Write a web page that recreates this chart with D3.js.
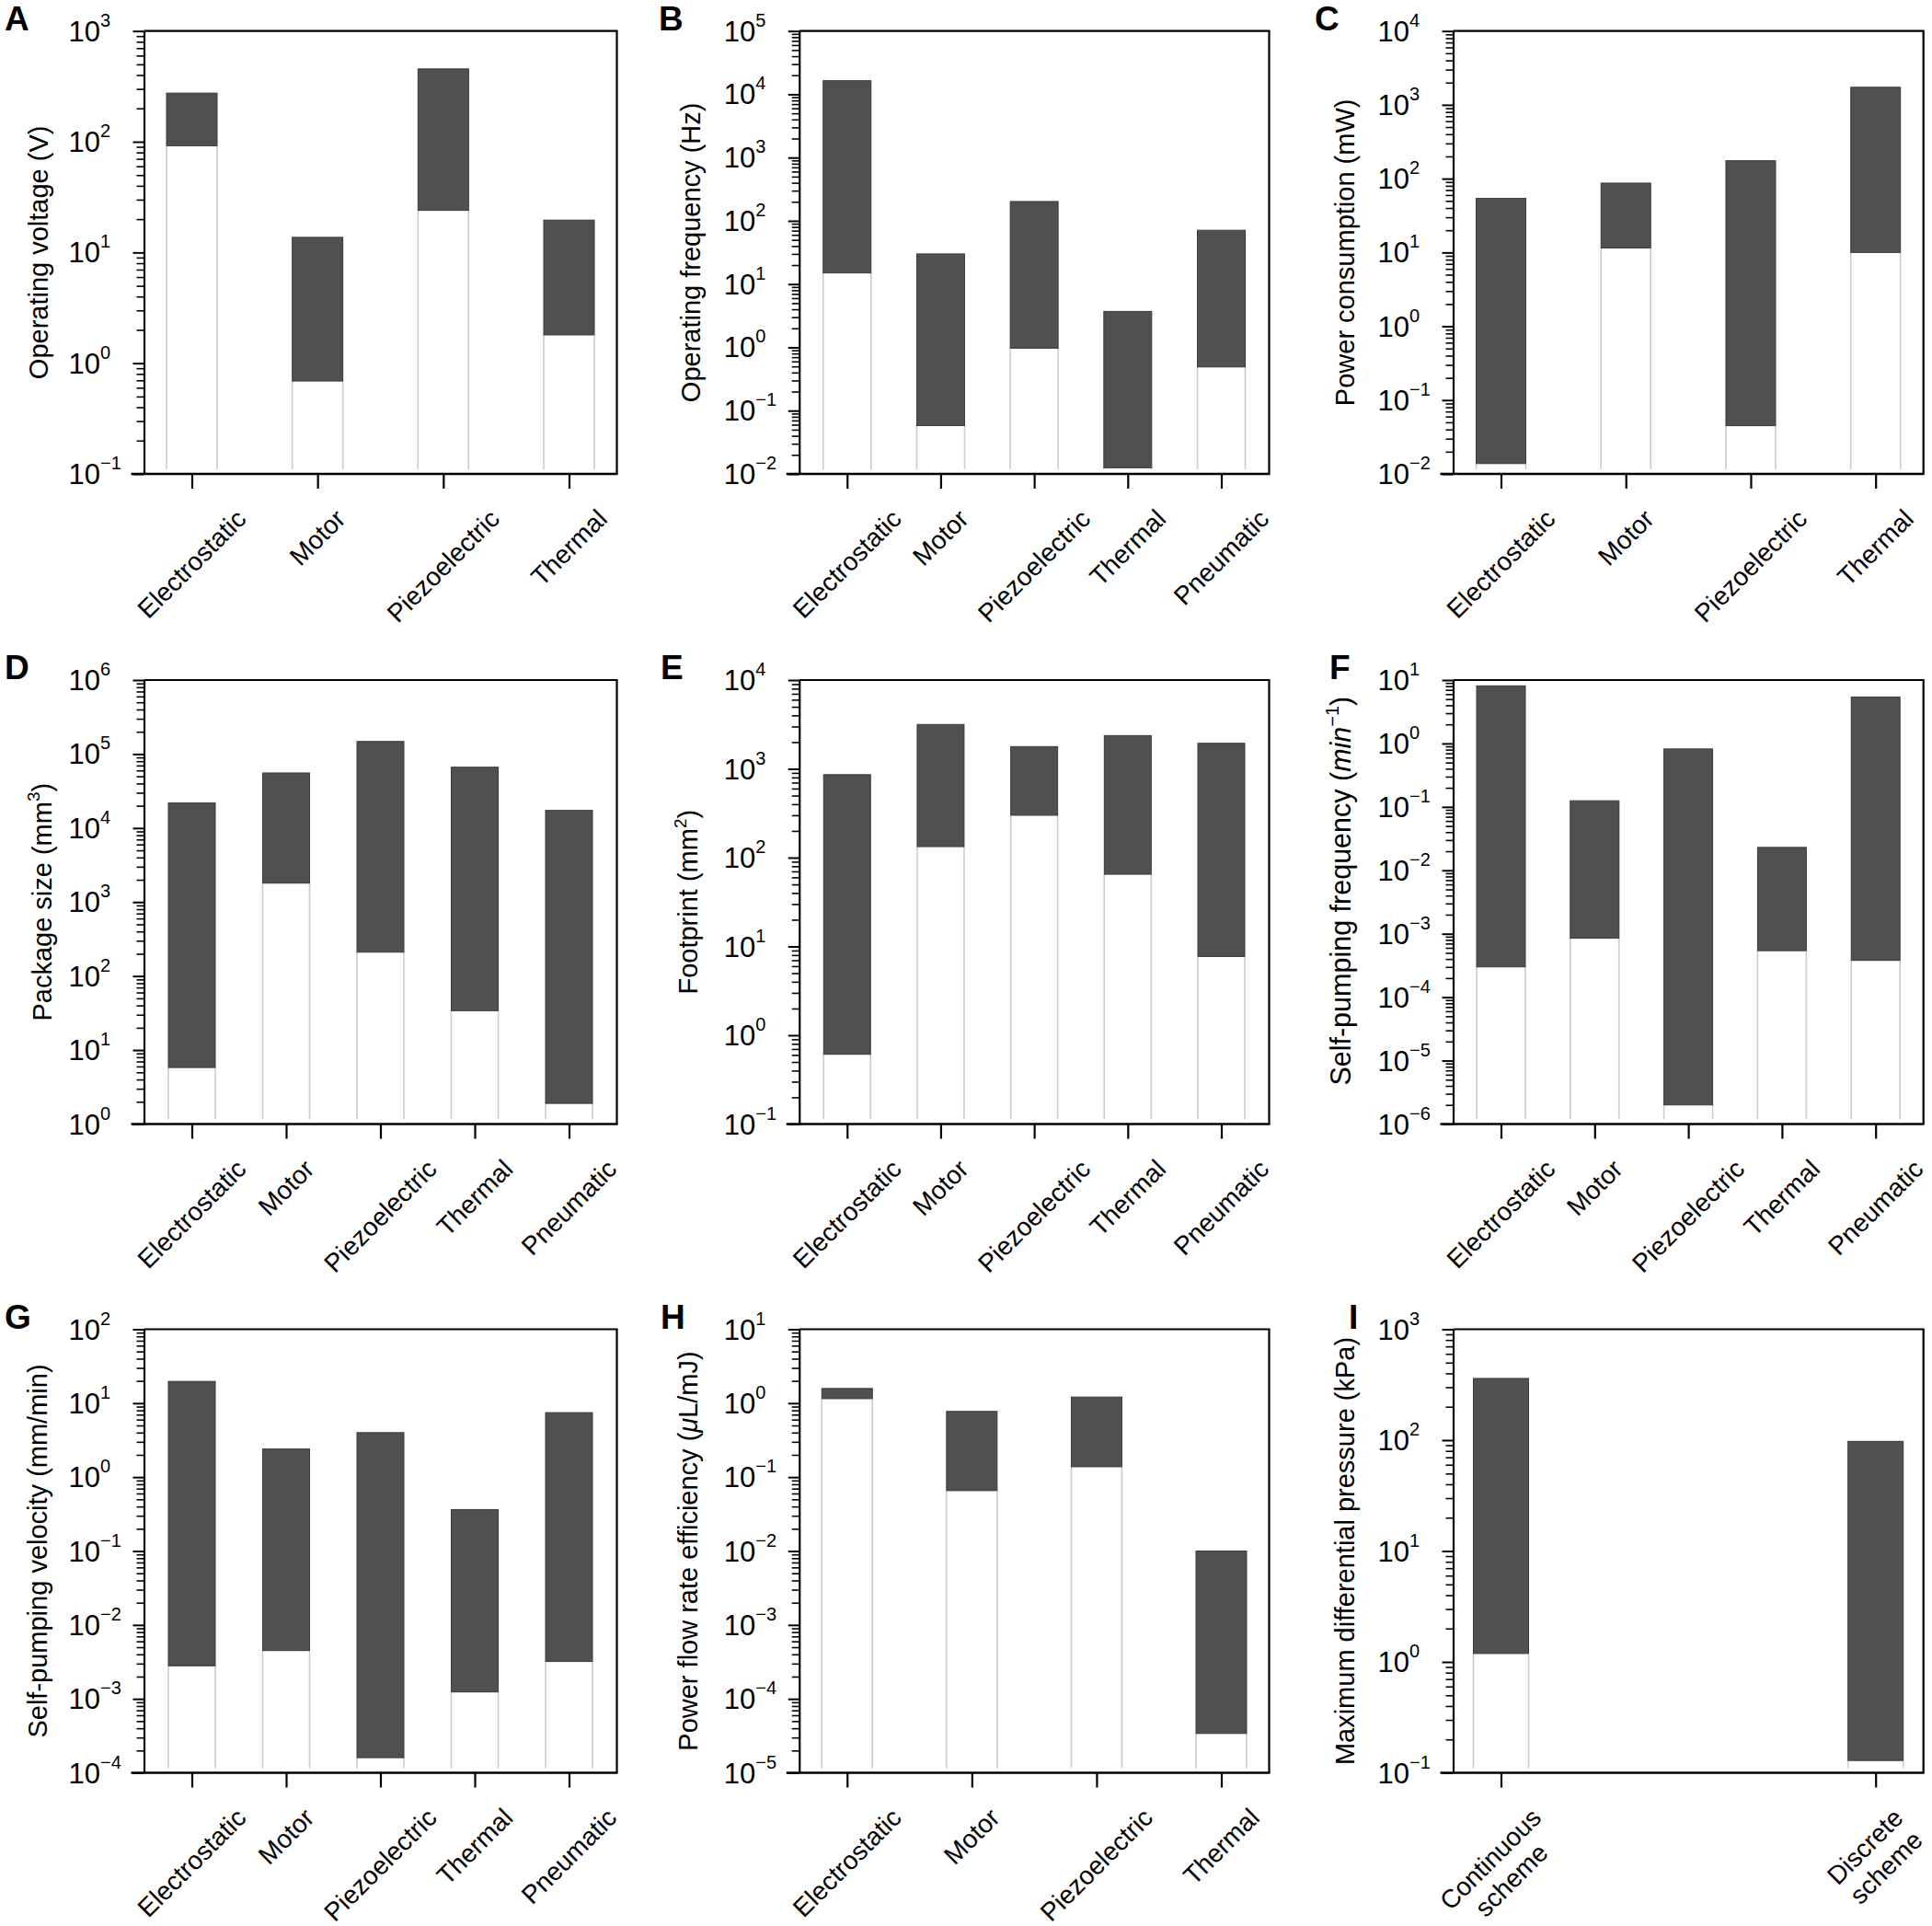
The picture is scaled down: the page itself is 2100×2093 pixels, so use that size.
<!DOCTYPE html>
<html><head><meta charset="utf-8">
<script src="https://cdn.jsdelivr.net/npm/d3@7"></script>
<style>
body{margin:0;background:#fff}
svg{display:block}
text{font-family:"Liberation Sans",Arial,Helvetica,sans-serif;fill:#000}
</style>
</head><body>
<svg id="chart" width="2100" height="2093"></svg>
<script>
// ---------------- DATA ----------------
const actuators4 = ["Electrostatic", "Motor", "Piezoelectric", "Thermal"];
const actuators5 = ["Electrostatic", "Motor", "Piezoelectric", "Thermal", "Pneumatic"];
const schemes = ["Continuous scheme", "Discrete scheme"];

// A: operating voltage (V)
const voltageDomain = [1e-1, 1e3];
const voltageLow  = [92, 0.69, 24, 1.8];
const voltageHigh = [275, 13.7, 455, 19.6];
// B: operating frequency (Hz)
const freqDomain = [1e-2, 1e5];
const freqLow  = [15, 0.058, 0.97, 0.0125, 0.49];
const freqHigh = [16400, 30, 202, 3.7, 71];
// C: power consumption (mW)
const powerDomain = [1e-2, 1e4];
const powerLow  = [0.0138, 11.5, 0.045, 10];
const powerHigh = [54, 87, 175, 1730];
// D: package size (mm3)
const sizeDomain = [1e0, 1e6];
const sizeLow  = [5.8, 1800, 210, 34, 1.9];
const sizeHigh = [21800, 55500, 148000, 66400, 17300];
// E: footprint (mm2)
const footDomain = [1e-1, 1e4];
const footLow  = [0.61, 133, 300, 65, 7.7];
const footHigh = [860, 3160, 1780, 2370, 1940];
// F: self-pumping frequency (1/min)
const spfDomain = [1e-6, 1e1];
const spfLow  = [3.0e-4, 8.5e-4, 2.0e-6, 5.4e-4, 3.8e-4];
const spfHigh = [8.1, 0.125, 0.82, 0.023, 5.4];
// G: self-pumping velocity (mm/min)
const spvDomain = [1e-4, 1e2];
const spvLow  = [2.8e-3, 4.5e-3, 1.6e-4, 1.24e-3, 3.2e-3];
const spvHigh = [19.7, 2.4, 4.0, 0.364, 7.45];
// H: power flow rate efficiency (uL/mJ)
const effDomain = [1e-5, 1e1];
const effLow  = [1.15, 0.0656, 0.138, 3.4e-5];
const effHigh = [1.58, 0.774, 1.21, 0.01];
// I: maximum differential pressure (kPa)
const pressDomain = [1e-1, 1e3];
const pressLow  = [1.19, 0.129];
const pressHigh = [360, 97.5];

// ---------------- LAYOUT ----------------
const cols = [{l:156.5, r:670.5}, {l:868.75, r:1379.5}, {l:1579.5, r:2090.7}];
const rows = [{t:33.7, b:515}, {t:739, b:1221.5}, {t:1444.5, b:1926.5}];
const darkFill = "#505050", darkStroke = "#3a3a3a", edgeGray = "#cdcdcd";

const panels = [
  {letter:"A", lx:5,    col:0, row:0, cats:actuators4, low:voltageLow, high:voltageHigh, domain:voltageDomain, bw:55,
   title:[{t:"Operating voltage (V)"}], tdx:105},
  {letter:"B", lx:716,  col:1, row:0, cats:actuators5, low:freqLow, high:freqHigh, domain:freqDomain, bw:52,
   title:[{t:"Operating frequency (Hz)"}], tdx:108},
  {letter:"C", lx:1429, col:2, row:0, cats:actuators4, low:powerLow, high:powerHigh, domain:powerDomain, bw:54,
   title:[{t:"Power consumption (mW)"}], tdx:108},
  {letter:"D", lx:5,    col:0, row:1, cats:actuators5, low:sizeLow, high:sizeHigh, domain:sizeDomain, bw:51,
   title:[{t:"Package size (mm"},{t:"3",sup:true},{t:")"}], tdx:101},
  {letter:"E", lx:718,  col:1, row:1, cats:actuators5, low:footLow, high:footHigh, domain:footDomain, bw:51,
   title:[{t:"Footprint (mm"},{t:"2",sup:true},{t:")"}], tdx:111},
  {letter:"F", lx:1445, col:2, row:1, cats:actuators5, low:spfLow, high:spfHigh, domain:spfDomain, bw:53,
   title:[{t:"Self-pumping frequency ("},{t:"min",it:true},{t:"\u22121",sup:true},{t:")"}], tdx:112, tsize:30.5, tshift:-12},
  {letter:"G", lx:5,    col:0, row:2, cats:actuators5, low:spvLow, high:spvHigh, domain:spvDomain, bw:51,
   title:[{t:"Self-pumping velocity (mm/min)"}], tdx:106},
  {letter:"H", lx:718,  col:1, row:2, cats:actuators4, low:effLow, high:effHigh, domain:effDomain, bw:55,
   title:[{t:"Power flow rate efficiency ("},{t:"\u03bc",it:true},{t:"L/mJ)"}], tdx:111},
  {letter:"I", lx:1466, col:2, row:2, cats:schemes, low:pressLow, high:pressHigh, domain:pressDomain, bw:60,
   title:[{t:"Maximum differential pressure (kPa)"}], tdx:108}
];

const svg = d3.select("#chart");
panels.forEach(drawPanel);

function drawPanel(p){
  const c = cols[p.col], r = rows[p.row];
  const g = svg.append("g");
  const y = d3.scaleLog().domain(p.domain).range([r.b, r.t]);
  const x = d3.scalePoint().domain(p.cats).range([c.l + 52, c.r - 52]);
  const bw = p.bw;
  const base = y(p.domain[0]) - 5;
  const rowsData = p.cats.map((cat, i) => ({cat, lo:p.low[i], hi:p.high[i]}));

  // lower white bars with light edges
  const bars = g.append("g");
  bars.selectAll("rect.white").data(rowsData).join("rect").attr("class","white")
    .attr("x", d => x(d.cat) - bw/2).attr("y", d => y(d.lo))
    .attr("width", bw).attr("height", d => Math.max(0, base - y(d.lo)))
    .attr("fill", "#fff");
  [-1, 1].forEach(s => {
    bars.selectAll("line.e" + (s+1)).data(rowsData).join("line").attr("class","e"+(s+1))
      .attr("x1", d => x(d.cat) + s*bw/2).attr("x2", d => x(d.cat) + s*bw/2)
      .attr("y1", d => y(d.lo)).attr("y2", base)
      .attr("stroke", edgeGray).attr("stroke-width", 1.6);
  });
  // dark range bars
  bars.selectAll("rect.dark").data(rowsData).join("rect").attr("class","dark")
    .attr("x", d => x(d.cat) - bw/2).attr("y", d => y(d.hi))
    .attr("width", bw).attr("height", d => y(d.lo) - y(d.hi))
    .attr("fill", darkFill).attr("stroke", darkStroke).attr("stroke-width", 1);

  // y axis ticks
  const lo = Math.round(Math.log10(p.domain[0])), hi = Math.round(Math.log10(p.domain[1]));
  const majors = d3.range(lo, hi + 1).map(k => Math.pow(10, k));
  const minors = [];
  d3.range(lo, hi).forEach(k => { for (let m = 2; m <= 9; m++) minors.push(m * Math.pow(10, k)); });

  const ym = g.append("g").attr("transform", `translate(${c.l},0)`)
    .call(d3.axisLeft(y).tickValues(minors).tickSize(8).tickFormat(""));
  ym.select(".domain").remove();
  ym.selectAll("line").attr("stroke", "#000").attr("stroke-width", 1.6);

  const yM = g.append("g").attr("transform", `translate(${c.l},0)`)
    .call(d3.axisLeft(y).tickValues(majors).tickSize(12).tickSizeOuter(0).tickFormat(""));
  yM.selectAll("line").attr("stroke", "#000").attr("stroke-width", 2);
  yM.select(".domain").attr("stroke", "#000").attr("stroke-width", 2.2);

  // y tick labels 10^k
  majors.forEach(v => {
    const k = Math.round(Math.log10(v));
    const t = g.append("text").attr("x", c.l - 82).attr("y", y(v) + 11).attr("font-size", 31);
    t.append("tspan").text("10");
    t.append("tspan").attr("font-size", 20).attr("dy", -16).text(k < 0 ? "\u2212" + (-k) : String(k));
  });

  // frame: top, right, bottom
  g.append("line").attr("x1", c.l).attr("x2", c.r + 1).attr("y1", r.t).attr("y2", r.t)
    .attr("stroke", "#000").attr("stroke-width", 2.2);
  g.append("line").attr("x1", c.r).attr("x2", c.r).attr("y1", r.t).attr("y2", r.b)
    .attr("stroke", "#000").attr("stroke-width", 2.2);
  g.append("line").attr("x1", c.l - 14).attr("x2", c.r + 1).attr("y1", r.b).attr("y2", r.b)
    .attr("stroke", "#000").attr("stroke-width", 2.4);

  // x ticks
  const xa = g.append("g").attr("transform", `translate(0,${r.b})`)
    .call(d3.axisBottom(x).tickSize(16).tickFormat(""));
  xa.select(".domain").remove();
  xa.selectAll("line").attr("stroke", "#000").attr("stroke-width", 2.2);

  // x labels rotated -45, bbox centered on tick, tops aligned
  p.cats.forEach(cat => {
    const lg = g.append("g");
    const t = lg.append("text").attr("transform", "rotate(-45)")
      .attr("text-anchor", "middle").attr("font-size", 28);
    if (p.cats === schemes) {
      cat.split(" ").forEach((w, i) => t.append("tspan").attr("x", 0).attr("dy", i ? "1.15em" : 0).text(w));
    } else {
      t.text(cat);
    }
    const bb = lg.node().getBBox();
    const dx = x(cat) - (bb.x + bb.width/2);
    const dy = (r.b + 33) - bb.y;
    lg.attr("transform", `translate(${dx},${dy})`);
  });

  // y title
  const fs = p.tsize || 29;
  const tt = g.append("text")
    .attr("transform", `translate(${c.l - p.tdx},${(r.t + r.b)/2 + (p.tshift || 0)}) rotate(-90)`)
    .attr("text-anchor", "middle").attr("font-size", fs);
  let raised = false;
  p.title.forEach(seg => {
    const ts = tt.append("tspan").text(seg.t);
    if (seg.sup) { ts.attr("font-size", fs*0.65).attr("dy", -fs*0.42); raised = true; }
    else if (raised) { ts.attr("dy", fs*0.42); raised = false; }
    if (seg.it) ts.attr("font-style", "italic");
  });

  // panel letter
  g.append("text").attr("x", p.lx).attr("y", r.t - 1).attr("font-size", 37)
    .attr("font-weight", "bold").text(p.letter);
}
</script>
</body></html>
